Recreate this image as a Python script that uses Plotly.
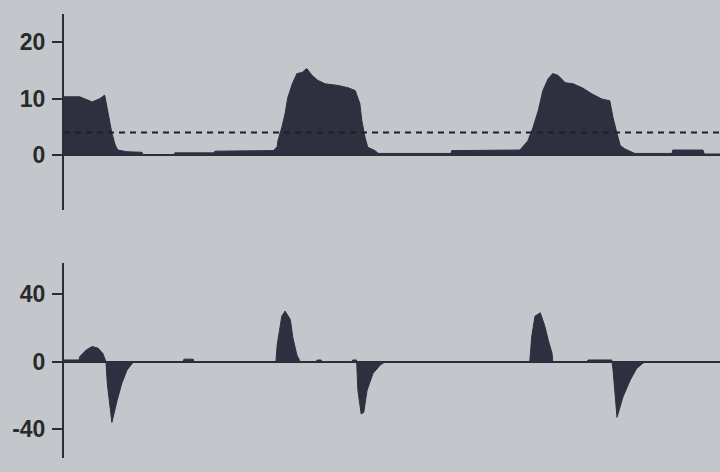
import plotly.graph_objects as go
from plotly.subplots import make_subplots

# Airway pressure trace (cmH2O) over a 10 s sweep
pressure_t = [
    0.00, 0.24, 0.43, 0.55, 0.62, 0.67, 0.70, 0.73, 0.78, 0.82, 0.96, 1.19,
    1.20, 1.68, 1.69, 2.29, 2.30, 3.19, 3.25, 3.26, 3.32, 3.37, 3.41, 3.48,
    3.55, 3.63, 3.70, 3.78, 3.87, 3.98, 4.18, 4.33, 4.44, 4.51, 4.54, 4.59,
    4.63, 4.74, 4.79, 5.90, 5.91, 6.95, 7.07, 7.15, 7.23, 7.30, 7.38, 7.45,
    7.53, 7.64, 7.76, 7.90, 8.05, 8.20, 8.32, 8.37, 8.43, 8.48, 8.55, 8.66,
    8.70, 9.27, 9.28, 9.74, 9.76, 10.00,
]
pressure = [
    10.3, 10.3, 9.4, 10.0, 10.6, 7.4, 5.6, 3.9, 1.8, 0.9, 0.6, 0.5,
    0.0, 0.0, 0.4, 0.4, 0.7, 0.8, 1.5, 2.5, 4.9, 7.3, 10.1, 12.6,
    14.4, 14.6, 15.3, 14.1, 13.2, 12.6, 12.3, 11.9, 11.4, 9.1, 6.1, 3.1,
    1.4, 0.8, 0.3, 0.3, 0.8, 0.9, 2.5, 4.9, 7.9, 11.4, 13.5, 14.4,
    14.1, 12.8, 12.6, 11.9, 10.8, 9.9, 9.6, 6.6, 3.8, 1.7, 1.1, 0.6,
    0.3, 0.3, 0.9, 0.9, 0.2, 0.2,
]
trigger_level = 4.0

# Flow trace (L/min) over the same sweep
flow_t = [
    0.00, 0.23, 0.24, 0.34, 0.43, 0.52, 0.59, 0.64, 0.66, 0.70, 0.73, 0.81,
    0.88, 0.96, 1.04, 1.08, 1.81, 1.83, 1.97, 1.98, 3.23, 3.25, 3.32, 3.37,
    3.45, 3.49, 3.55, 3.60, 3.84, 3.86, 3.92, 3.93, 4.39, 4.40, 4.46, 4.48,
    4.53, 4.57, 4.62, 4.71, 4.82, 4.90, 7.10, 7.13, 7.18, 7.26, 7.33, 7.38,
    7.44, 7.45, 7.97, 7.99, 8.35, 8.37, 8.40, 8.43, 8.52, 8.63, 8.73, 8.82,
    8.87, 10.00,
]
flow = [
    1, 1, 3, 7, 9, 8, 5, 0, -13, -27, -36, -23,
    -13, -5, -1, 0, 0, 1.5, 1.5, 0, 0, 10, 27, 30,
    25, 14, 4, 0, 0, 1, 1, 0, 0, 1, 1, -17,
    -31, -30, -17, -7, -2, 0, 0, 15, 27, 29, 21, 13,
    5, 0, 0, 1, 1, -5, -21, -33, -21, -11, -4, -1,
    0, 0,
]

pressure_ticks = [0, 10, 20]
pressure_labels = ["0", "10", "20"]
flow_ticks = [-40, 0, 40]
flow_labels = ["-40", "0", "40"]

BG = "#c3c7cb"
INK = "#2b2c36"
FILL = "#2e3040"

fig = make_subplots(rows=2, cols=1)

fig.add_trace(
    go.Scatter(
        x=pressure_t, y=pressure, mode="lines", fill="tozeroy",
        fillcolor=FILL, line={"color": FILL, "width": 1},
        name="Pressure", showlegend=False,
    ),
    row=1, col=1,
)
# dashed trigger level across the whole sweep
fig.add_trace(
    go.Scatter(
        x=[pressure_t[0], pressure_t[-1]], y=[trigger_level, trigger_level],
        mode="lines", line={"color": "#1e1f26", "width": 2, "dash": "6px,5px"},
        showlegend=False,
    ),
    row=1, col=1,
)
fig.add_trace(
    go.Scatter(
        x=flow_t, y=flow, mode="lines", fill="tozeroy",
        fillcolor=FILL, line={"color": FILL, "width": 1},
        name="Flow", showlegend=False,
    ),
    row=2, col=1,
)

axis_style = dict(
    showgrid=False, showline=True, linecolor=INK, linewidth=2,
    ticks="outside", ticklen=10, tickwidth=2, tickcolor=INK,
    zeroline=True, zerolinecolor=INK, zerolinewidth=2,
    tickfont={"family": "Liberation Sans", "size": 23, "color": "#2a2a2a", "weight": "bold"},
    ticklabelstandoff=2,
)
fig.update_yaxes(**axis_style, tickvals=pressure_ticks, ticktext=pressure_labels,
                 range=[-9.7, 24.9], domain=[0.555, 0.970], row=1, col=1)
fig.update_yaxes(**axis_style, tickvals=flow_ticks, ticktext=flow_labels,
                 range=[-57.3, 58.3], domain=[0.029, 0.442], row=2, col=1)
fig.update_xaxes(visible=False, range=[0, 10], showgrid=False)

fig.update_layout(
    width=720, height=472,
    margin={"l": 64, "r": 0, "t": 0, "b": 0, "autoexpand": False},
    paper_bgcolor=BG, plot_bgcolor=BG,
    showlegend=False,
)

fig.write_html(
    "out.html",
    config={"displayModeBar": False},
    post_script="document.body.style.margin='0';document.body.style.background='" + BG + "';",
)
